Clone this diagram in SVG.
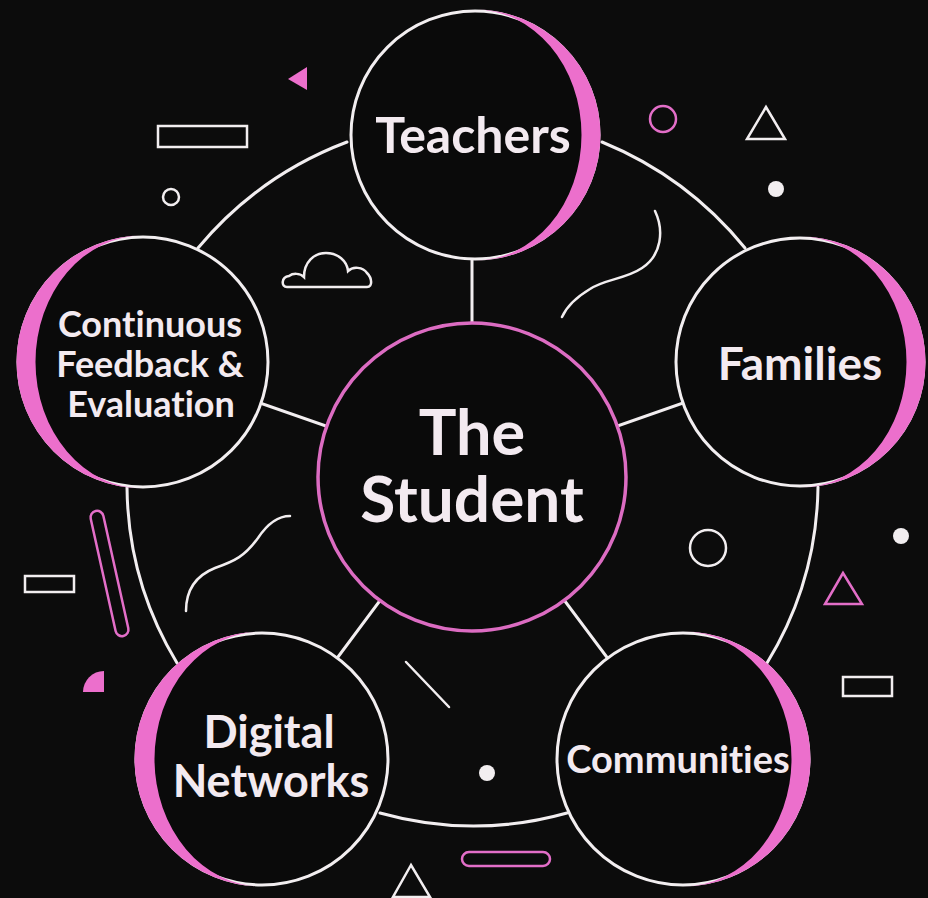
<svg xmlns="http://www.w3.org/2000/svg" width="928" height="898" viewBox="0 0 928 898">
<style>
.bg{fill:#0c0c0c}
.conn{fill:none;stroke:#f2eef0;stroke-width:3;stroke-linecap:round}
.node{fill:#0a0a0a;stroke:#f2eef0;stroke-width:3}
.cres{fill:#ec6fcc}
.center{fill:#0a0a0a;stroke:#dc6cc2;stroke-width:3.5}
.lbl{font-family:Lato,"Noto Sans","Liberation Sans",sans-serif;font-weight:700;fill:#f3eaf0;text-anchor:middle;font-variant-ligatures:none;font-feature-settings:"liga" 0}
.wo{fill:none;stroke:#f2eef0;stroke-width:2.5}
.po{fill:none;stroke:#e36ec8;stroke-width:2.5}
.wf{fill:#f2eef0}
.pf{fill:#ec6fcc}
</style>
<rect class="bg" x="0" y="0" width="928" height="898"/>

<g id="decorations">
  <polygon class="pf" points="288,79 307,67 307,90"/>
  <rect class="wo" x="158" y="126" width="89" height="21"/>
  <circle class="wo" cx="171" cy="197" r="8"/>
  <path class="wo" d="M287,287 C281,287 281,277 289,276 C293,273 300,273 304,277 C304,262 314,253 326,253 C338,253 347,261 348,271 C353,266 363,267 367,273 C372,278 373,287 367,287 Z"/>
  <circle class="po" cx="663" cy="119" r="13"/>
  <polygon class="wo" points="766,107 747,139 785,139"/>
  <circle class="wf" cx="776" cy="189" r="8"/>
  <path class="wo" stroke-linecap="round" d="M655,211 C664,230 662,255 642,268 C626,279 605,279 590,289 C575,298 566,308 562,317"/>
  <rect class="po" x="-64" y="-6.5" width="128" height="13" rx="6.5" transform="translate(109.5,573.5) rotate(77.5)"/>
  <rect class="wo" x="25" y="576" width="49" height="16"/>
  <path class="wo" stroke-linecap="round" d="M186,611 C186,590 195,576 215,568 C235,561 245,556 258,538 C268,523 278,516 290,516"/>
  <path class="pf" d="M104,692 L83,692 A21,21 0 0 1 104,671 Z"/>
  <circle class="wo" cx="708" cy="548" r="18"/>
  <circle class="wf" cx="901" cy="536" r="8"/>
  <polygon class="po" points="843,573 825,604 862,604"/>
  <rect class="wo" x="843" y="677" width="49" height="19"/>
  <line class="wo" stroke-linecap="round" x1="406" y1="662" x2="449" y2="707"/>
  <circle class="wf" cx="487" cy="773" r="8"/>
  <rect class="po" x="462" y="852" width="88" height="14" rx="7"/>
  <polygon class="wo" points="411,865 393,897 430,897"/>
</g>

<g id="connectors">
  <path class="conn" d="M602,142 A360,360 0 0 1 745,248"/>
  <path class="conn" d="M818,487 A346,346 0 0 1 767,663"/>
  <path class="conn" d="M567,813 A346,346 0 0 1 380,813"/>
  <path class="conn" d="M177,663 A346,346 0 0 1 127,487"/>
  <path class="conn" d="M198,248 A360,360 0 0 1 347,142"/>
  <line class="conn" x1="472" y1="330" x2="472" y2="250"/>
  <line class="conn" x1="472" y1="477" x2="800" y2="362"/>
  <line class="conn" x1="472" y1="477" x2="143" y2="362"/>
  <line class="conn" x1="472" y1="477" x2="262" y2="759"/>
  <line class="conn" x1="472" y1="477" x2="683" y2="759"/>
</g>

<g id="node-teachers">
  <circle class="node" cx="475" cy="135" r="124"/>
  <path class="cres" d="M475,9.5 A125.5,125.5 0 0 1 475,260.5 A106.5,125.5 0 0 0 475,9.5 Z"/>
  <text class="lbl" x="473" y="153" font-size="50">Teachers</text>
</g>

<g id="node-families">
  <circle class="node" cx="800" cy="362" r="124"/>
  <path class="cres" d="M800,236.5 A125.5,125.5 0 0 1 800,487.5 A106.5,125.5 0 0 0 800,236.5 Z"/>
  <text class="lbl" x="800" y="380" font-size="46">Families</text>
</g>

<g id="node-feedback">
  <circle class="node" cx="143" cy="362" r="125"/>
  <path class="cres" d="M143,235.5 A126.5,126.5 0 0 0 143,488.5 A107.5,126.5 0 0 1 143,235.5 Z"/>
  <text class="lbl" x="150" y="337" font-size="36">Continuous</text>
  <text class="lbl" x="150" y="377" font-size="36">Feedback &amp;</text>
  <text class="lbl" x="151" y="417" font-size="36">Evaluation</text>
</g>

<g id="node-digital">
  <circle class="node" cx="262" cy="759" r="126"/>
  <path class="cres" d="M262,631.5 A127.5,127.5 0 0 0 262,886.5 A107.5,127.5 0 0 1 262,631.5 Z"/>
  <text class="lbl" x="269" y="748" font-size="45">Digital</text>
  <text class="lbl" x="271" y="797" font-size="45">Networks</text>
</g>

<g id="node-communities">
  <circle class="node" cx="683" cy="759" r="126"/>
  <path class="cres" d="M683,631.5 A127.5,127.5 0 0 1 683,886.5 A108.5,127.5 0 0 0 683,631.5 Z"/>
  <text class="lbl" x="678" y="773" font-size="38">Communities</text>
</g>

<g id="node-student">
  <circle class="center" cx="472" cy="477" r="154"/>
  <text class="lbl" x="472" y="455" font-size="63">The</text>
  <text class="lbl" x="472" y="522" font-size="64">Student</text>
</g>
</svg>
